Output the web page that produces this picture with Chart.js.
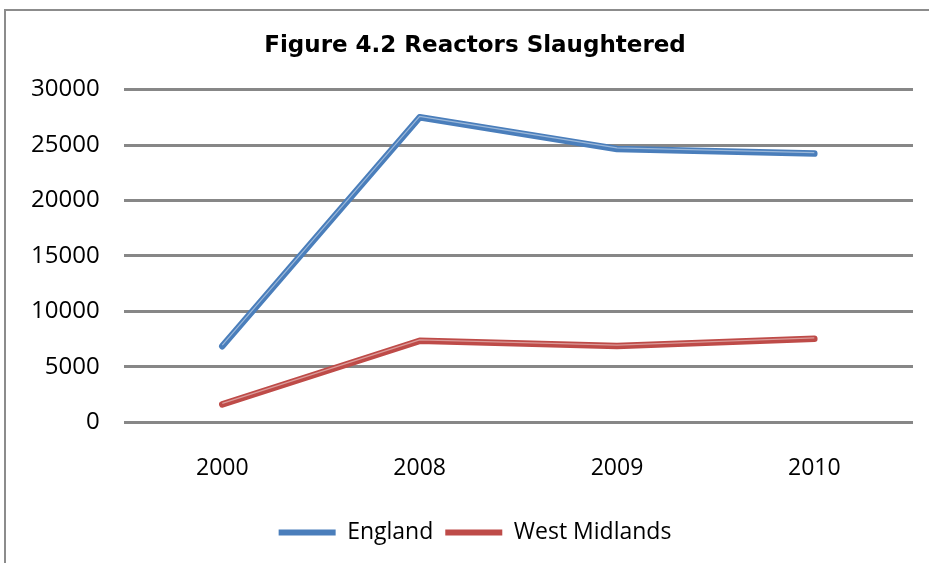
<!DOCTYPE html>
<html>
<head>
<meta charset="utf-8">
<script src="https://cdn.jsdelivr.net/npm/chart.js@4"></script>
<style>
  html, body { margin: 0; padding: 0; background: #fff; }
  #wrap { width: 929px; height: 563px; position: relative; }
</style>
</head>
<body>
<div id="wrap"><canvas id="myChart" width="929" height="563"></canvas></div>
<script>
const years = ["2000", "2008", "2009", "2010"];
const england = [6870, 27500, 24650, 24230];
const westMidlands = [1620, 7350, 6880, 7530];
const seriesNames = ["England", "West Midlands"];
const seriesColors = ["#4a7ebb", "#be4b48"];

// white background plus the frame seen on the left / top edge
const frame = {
    id: "frame",
    beforeDraw: chart => {
        const c = chart.ctx;
        c.save();
        c.fillStyle = "#fff";
        c.fillRect(0, 0, chart.width, chart.height);
        c.strokeStyle = "#8c8c8c";
        c.lineWidth = 2;
        c.beginPath();
        c.moveTo(5, chart.height);
        c.lineTo(5, 10);
        c.lineTo(chart.width, 10);
        c.stroke();
        c.restore();
    },
};

// title and legend sit a bit right of the canvas centre in the original
const nudge = {
    id: "nudge",
    afterLayout: chart => {
        if (chart.titleBlock) chart.titleBlock.left += 30;
        if (chart.legend) {
            chart.legend.left += 30;
            chart.legend.top -= 5;
            chart.legend.bottom -= 5;
        }
    },
};

// light streak along each line, like the Excel bevel
const shine = {
    id: "shine",
    afterDatasetsDraw: chart => {
        const c = chart.ctx;
        chart.data.datasets.forEach((ds, i) => {
            const pts = chart.getDatasetMeta(i).data;
            c.save();
            c.strokeStyle = "rgba(255,255,255,0.45)";
            c.lineWidth = 1.2;
            c.lineJoin = "round";
            c.beginPath();
            pts.forEach((p, j) => {
                if (j === 0) c.moveTo(p.x, p.y - 1);
                else c.lineTo(p.x, p.y - 1);
            });
            c.stroke();
            c.restore();
        });
    },
};

const ctx = document.getElementById("myChart").getContext("2d");
const chart = new Chart(ctx, {
    type: "line",
    data: {
        labels: years,
        datasets: [
            { label: seriesNames[0], data: england, borderColor: seriesColors[0], backgroundColor: seriesColors[0] },
            { label: seriesNames[1], data: westMidlands, borderColor: seriesColors[1], backgroundColor: seriesColors[1] },
        ],
    },
    options: {
        responsive: false,
        animation: false,
        layout: { padding: { left: 7, right: 16, top: 14, bottom: 4 } },
        elements: {
            line: { borderWidth: 6.5, tension: 0, borderCapStyle: "round", borderJoinStyle: "round" },
            point: { radius: 0 },
        },
        scales: {
            x: {
                offset: true,
                grid: { display: false, drawTicks: false },
                border: { display: false },
                ticks: { color: "#000", padding: 32, font: { family: "Open Sans", size: 23 } },
            },
            y: {
                min: 0,
                max: 30000,
                ticks: {
                    stepSize: 5000,
                    color: "#000",
                    padding: 24,
                    font: { family: "Open Sans", size: 24 },
                    callback: v => String(v),
                },
                grid: { color: "#878787", lineWidth: 3, drawTicks: false },
                border: { display: false },
            },
        },
        plugins: {
            title: {
                display: true,
                text: "Figure 4.2 Reactors Slaughtered",
                color: "#000",
                font: { family: "DejaVu Sans", size: 23, weight: "bold" },
                padding: { top: 18, bottom: 30 },
            },
            legend: {
                position: "bottom",
                labels: {
                    color: "#000",
                    boxWidth: 57,
                    boxHeight: 6,
                    padding: 12,
                    font: { family: "Open Sans", size: 23 },
                    generateLabels: ch => ch.data.datasets.map((ds, i) => ({
                        text: ds.label,
                        fillStyle: seriesColors[i],
                        strokeStyle: seriesColors[i],
                        lineWidth: 0,
                        datasetIndex: i,
                    })),
                },
            },
            tooltip: { enabled: false },
        },
    },
    plugins: [frame, nudge, shine],
});
</script>
</body>
</html>
